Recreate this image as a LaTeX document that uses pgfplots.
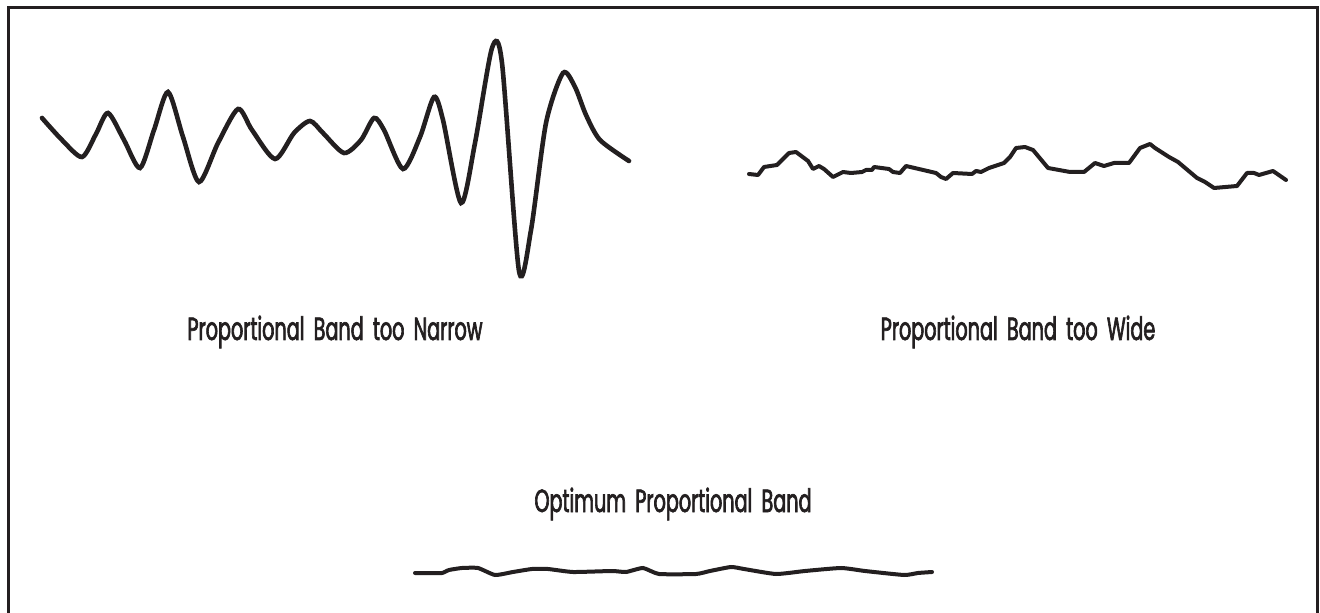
\documentclass[border=0pt]{standalone}
\usepackage{fontspec}
\setmainfont{Poppins}[FakeStretch=0.6,FakeBold=2,WordSpace=1.8]
\usepackage{pgfplots}
\pgfplotsset{compat=1.18}
\definecolor{ink}{RGB}{35,31,32}

% narrow band: big oscillation
\pgfplotstableread{
x y
42 118
62 140
82 157
96 134
108 113
124 140
140 168
154 130
168 92
183 137
199 182
218 143
238 109
252 130
275 159
294 133
310 121
323 133
344 153
361 140
374 118
384 130
403 169
420 137
434 97
443 120
461 203
475 143
492 48
502 63
519 271
531 230
546 123
563 73
575 87
586 115
600 140
629 161
}\narrowtbl

% wide band: slow wander
\pgfplotstableread{
x y
749 174
758 175
764 167
777 165
789 153
796 152
808 161
813 169
819 166
824 169
833 177
843 172
851 173
862 172
866 170
872 170
874 167
889 169
893 172
900 173
906 166
936 173
941 177
946 179
953 173
972 174
976 171
981 172
989 168
1004 163
1010 157
1016 148
1025 147
1033 150
1048 168
1070 172
1084 172
1095 163
1104 166
1114 163
1129 163
1140 148
1150 144
1155 148
1169 157
1178 162
1197 178
1205 182
1214 188
1237 186
1247 173
1254 173
1259 175
1273 171
1286 180
}\widetbl

% optimum band
\pgfplotstableread{
x y
415 573
426 573
442 573
449 570
462 568
478 568
495 575
513 572
532 569
548 569
573 572
612 571
626 572
643 568
659 574
696 574
710 571
731 567
744 569
776 574
805 571
841 568
865 571
904 575
918 573
932 572
}\opttbl

\begin{document}
\begin{tikzpicture}
\begin{axis}[
    name=ax,
    width=660pt, height=306.5pt,
    scale only axis,
    xmin=0, xmax=1320, ymin=0, ymax=613,
    y dir=reverse,
    hide axis,
    clip=true,
]
% frame (open at bottom)
\addplot[ink, line width=1.5pt] coordinates {(8.5,640) (8.5,8) (1317.5,8) (1317.5,640)};
\addplot[ink, line width=2.3pt, smooth, tension=0.45, line cap=round] table {\narrowtbl};
\addplot[ink, line width=2pt, line join=round, line cap=round] table {\widetbl};
\addplot[ink, line width=2pt, smooth, tension=0.3, line cap=round] table {\opttbl};
\node[anchor=base, text=ink, font=\fontsize{16}{18}\selectfont] at (axis cs:335,340) {Proportional Band too Narrow};
\node[anchor=base, text=ink, font=\fontsize{16}{18}\selectfont] at (axis cs:1018,340) {Proportional Band too Wide};
\node[anchor=base, text=ink, font=\fontsize{16}{18}\selectfont] at (axis cs:673,512) {Optimum Proportional Band};
\end{axis}
\pgfresetboundingbox
\path (ax.south west) rectangle (ax.north east);
\end{tikzpicture}
\end{document}
